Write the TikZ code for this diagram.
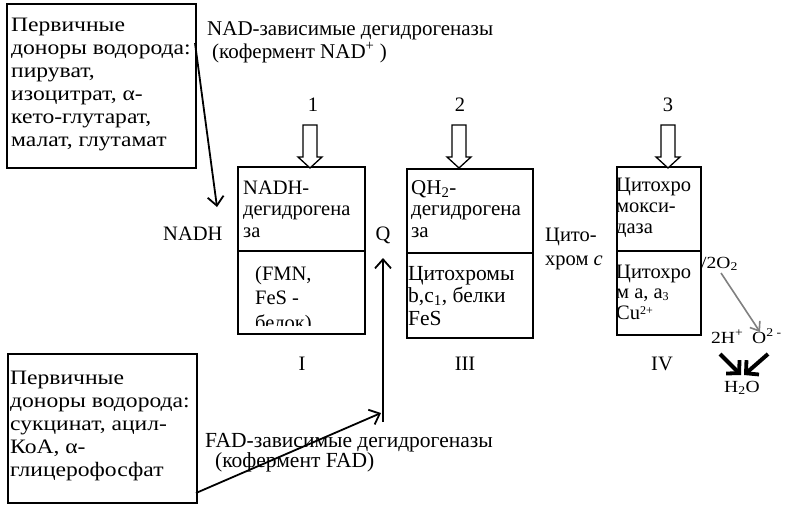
\documentclass[tikz,border=0pt]{standalone}
\usepackage{fontspec}
\setmainfont{Liberation Serif}
\newfontfamily\widefont[FakeStretch=1.15]{Liberation Serif}
\usetikzlibrary{arrows.meta}
\newcommand{\lowsup}[1]{\raisebox{0.45ex}{\fontsize{12}{12}\selectfont #1}}
\newcommand{\highsub}[1]{\raisebox{-0.25ex}{\fontsize{12}{12}\selectfont #1}}
\begin{document}
\begin{tikzpicture}[x=1pt,y=-1pt,
  txt/.style={inner sep=0pt, anchor=base west, align=left, font=\fontsize{20.5}{22.5}\selectfont},
  ctxt/.style={inner sep=0pt, anchor=base, font=\fontsize{20.5}{22.5}\selectfont},
  smalltxt/.style={inner sep=0pt, anchor=base west, font=\widefont\fontsize{17}{19}\selectfont},
  frame/.style={draw, line width=1.6pt, inner sep=0pt, anchor=north west},
  hollow/.style={draw, line width=1.3pt, fill=white, line join=miter},
  conn/.style={line width=1.8pt, -{Straight Barb[length=9pt,width=16pt,line width=1.8pt]}},
  thick arrow/.style={line width=4pt, -{Straight Barb[length=9pt,width=19pt,line width=3.8pt]}},
]
\useasboundingbox (0,0) rectangle (807,509);
\fill[white] (0,0) rectangle (807,509);

% donor boxes (text anchored at the baseline of its last line)
\node[frame, minimum width=189pt, minimum height=164pt] (don1) at (6,3) {};
\node[txt, font=\widefont\fontsize{20.5}{23}\selectfont] (don1t) at (11,146) {Первичные\\доноры водорода:\\пируват,\\изоцитрат, α-\\кето-глутарат,\\малат, глутамат};
\node[frame, minimum width=189pt, minimum height=149pt] (don2) at (7,353) {};
\node[txt, font=\widefont\fontsize{20.5}{23}\selectfont] (don2t) at (10,476) {Первичные\\доноры водорода:\\сукцинат, ацил-\\КоА, α-\\глицерофосфат};

% captions
\node[txt, font=\fontsize{21}{23}\selectfont] (nadcap) at (207,58) {NAD-зависимые дегидрогеназы\\\hspace*{5pt}(кофермент NAD\textsuperscript{+} )};
\node[txt, font=\fontsize{21.5}{20}\selectfont] (fadcap) at (205,467) {FAD-зависимые дегидрогеназы\\\hspace*{10pt}(кофермент FAD)};

% numbers
\node[ctxt] (n1) at (313,111) {1};
\node[ctxt] (n2) at (460,111) {2};
\node[ctxt] (n3) at (668,111) {3};

% complex boxes
\node[frame, minimum width=127pt, minimum height=167pt] (c1) at (237,166) {};
\draw[line width=1.6pt] (237,251) -- (364,251);
\node[frame, minimum width=126pt, minimum height=169pt] (c3) at (406,168) {};
\draw[line width=1.6pt] (406,253) -- (532,253);
\node[frame, minimum width=84pt, minimum height=168pt] (c4) at (616,166) {};
\draw[line width=1.6pt] (616,251) -- (700,251);

% box texts
\node[txt, font=\fontsize{20.5}{21.5}\selectfont] (c1a) at (243,237) {NADH-\\дегидрогена\\за};
\begin{scope}
  \clip (237,251) rectangle (364,325);
  \node[txt, font=\fontsize{20.5}{24.5}\selectfont] (c1b) at (255,329) {(FMN,\\FeS -\\белок)};
\end{scope}
\node[txt, font=\fontsize{21}{21.5}\selectfont] (c3a) at (411,237) {QH\textsubscript{2}-\\дегидрогена\\за};
\node[txt, font=\fontsize{21.5}{22.5}\selectfont] (c3b) at (408,325) {Цитохромы\\b,c\textsubscript{1}, белки\\FeS};
\begin{scope}
  \clip (617,166) rectangle (700,334);
  \node[txt, font=\fontsize{20.5}{21}\selectfont] (c4a) at (616,233) {Цитохро\\мокси-\\даза};
  \node[txt, font=\fontsize{20.5}{20.5}\selectfont] (c4b) at (616,319) {Цитохро\\м а, а\highsub{3}\\Cu\lowsup{2+}};
\end{scope}

% carriers
\node[txt] (nadh) at (163,240) {NADH};
\node[ctxt] (q) at (383,240) {Q};
\node[txt, font=\fontsize{20.5}{24}\selectfont] (cytc) at (545,265) {Цито-\\хром \textit{c}};

% roman numerals
\node[ctxt] (r1) at (302,370) {I};
\node[ctxt] (r3) at (465,370) {III};
\node[ctxt] (r4) at (662,370) {IV};

% hollow arrows
\foreach \cx in {310, 459, 668}{
  \draw[hollow] (\cx-7,125) -- (\cx+7,125) -- (\cx+7,157) -- (\cx+12,157) -- (\cx,168) -- (\cx-12,157) -- (\cx-7,157) -- cycle;
}

% donor connectors
\coordinate (nadhin) at (217,207);
\draw[conn] (195,43) -- (nadhin);
\coordinate (qbot) at (383,422);
\coordinate (qtop) at (383,258);
\draw[conn] (qbot) -- (qtop);
\coordinate (fadend) at (381,413);
\draw[conn] (196,493) -- (fadend);

% oxygen part
\node[smalltxt] (o2) at (701,268) {/2O\textsubscript{2}};
\node[smalltxt] (hplus) at (711,343) {2H\textsuperscript{+}};
\node[smalltxt] (ominus) at (752,343) {O\textsuperscript{2 -}};
\node[smalltxt] (water) at (724,392) {H\textsubscript{2}O};
\draw[gray, line width=1.6pt, -{Straight Barb[length=8pt,width=12pt,line width=1.6pt]}] (721,273) -- (760,332);
\coordinate (wl) at (741,375);
\coordinate (wr) at (744,375);
\draw[thick arrow] (720,354) -- (wl);
\draw[thick arrow] (768,354) -- (wr);
\end{tikzpicture}
\end{document}
